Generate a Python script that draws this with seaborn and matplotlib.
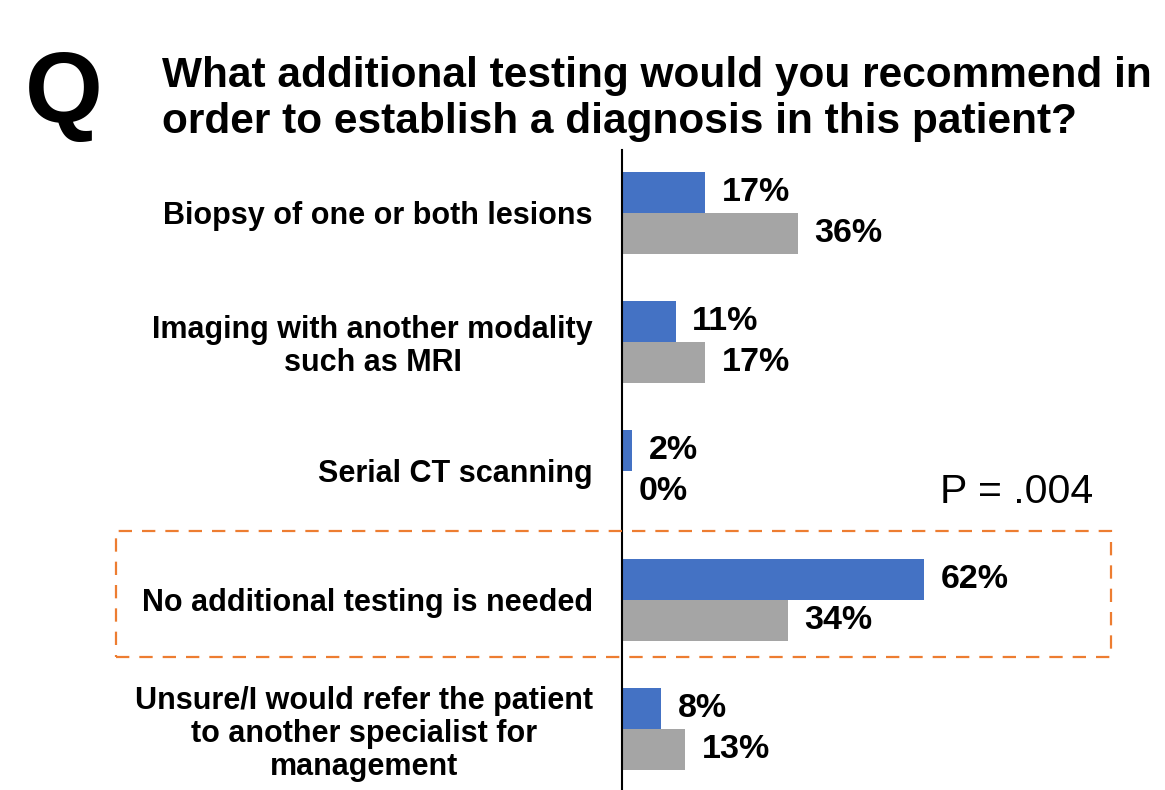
import matplotlib
matplotlib.use("Agg")
import matplotlib.pyplot as plt
import seaborn as sns
import pandas as pd
from matplotlib.patches import Rectangle

# ---- data ----
categories = [
    "Biopsy of one or both lesions",
    "Imaging with another modality\nsuch as MRI",
    "Serial CT scanning",
    "No additional testing is needed",
    "Unsure/I would refer the patient\nto another specialist for\nmanagement",
]
series_names = ["Series 1", "Series 2"]
series1 = [17, 11, 2, 62, 8]
series2 = [36, 17, 0, 34, 13]
colors = ["#4472C4", "#A5A5A5"]
title = "What additional testing would you recommend in\norder to establish a diagnosis in this patient?"
q_mark = "Q"
p_label = "P = .004"

sns.set_theme(style="white")
plt.rcParams["font.family"] = ["Liberation Sans", "DejaVu Sans"]
plt.rcParams["text.color"] = "black"

df = pd.DataFrame({
    "category": categories * 2,
    "value": series1 + series2,
    "series": [series_names[0]] * len(series1) + [series_names[1]] * len(series2),
})

W, H = 1165, 790
fig = plt.figure(figsize=(W / 100, H / 100), dpi=100)
ax = fig.add_axes([622 / W, 0, (W - 622) / W, 640 / H])

sns.barplot(data=df, x="value", y="category", hue="series", order=categories,
            hue_order=series_names, palette=colors, orient="h", width=0.64,
            saturation=1, ax=ax, legend=False, linewidth=0)

for cont in ax.containers:
    ax.bar_label(cont, fmt="%g%%", padding=12, fontsize=24.5, fontweight="bold",
                 color="black")

ax.set_xlim(0, 111.3)
ax.set_ylim(4.473, -0.488)
ax.set_xlabel("")
ax.set_ylabel("")
ax.set_xticks([])
ax.tick_params(axis="y", length=0, pad=21, labelsize=22)
for lab in ax.get_yticklabels():
    lab.set_fontweight("bold")
    lab.set_multialignment("center")
    lab.set_color("black")
    lab.set_linespacing(1.12)
for side in ["top", "right", "bottom"]:
    ax.spines[side].set_visible(False)
ax.spines["left"].set_color("black")
ax.spines["left"].set_linewidth(1.5)

fig.text(25 / W, 1 - 122 / H, q_mark, fontsize=72, fontweight="bold",
         va="baseline", color="black")
fig.text(162 / W, 1 - 133 / H, title, fontsize=30.5, fontweight="bold",
         va="baseline", linespacing=1.2, color="black")
fig.text(940 / W, 1 - 503 / H, p_label, fontsize=29.5, va="baseline", color="black")

fig.add_artist(Rectangle((116 / W, 1 - 657 / H), (1111 - 116) / W, 126 / H,
                         transform=fig.transFigure, fill=False,
                         edgecolor="#ED7D31", lw=1.6, linestyle=(0, (6, 4.5))))

fig.savefig("out.png", dpi=100)
